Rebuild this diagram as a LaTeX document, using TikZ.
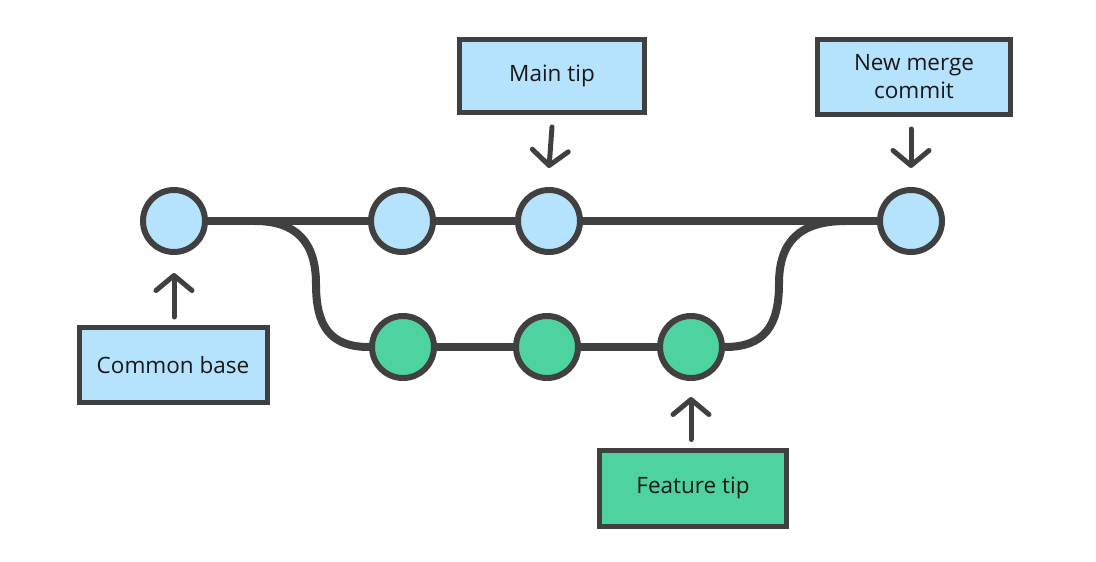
\documentclass[tikz,border=0pt]{standalone}
\usepackage{fontspec}
\setmainfont{Open Sans}
\usetikzlibrary{arrows.meta}
\definecolor{ink}{HTML}{404040}
\definecolor{lblue}{HTML}{B5E2FC}
\definecolor{lgreen}{HTML}{4DD2A0}
\tikzset{
  commit/.style={circle, draw=ink, line width=6pt, minimum size=62pt, inner sep=0pt},
  mainc/.style={commit, fill=lblue},
  featc/.style={commit, fill=lgreen},
  label box/.style={draw=ink, line width=5pt, inner sep=0pt, align=center, font=\fontsize{22.5}{28}\selectfont, text=black!90},
  bluebox/.style={label box, fill=lblue},
  greenbox/.style={label box, fill=lgreen},
  branch/.style={draw=ink, line width=8pt},
  pointer/.style={draw=ink, line width=5pt, line cap=round, -{Straight Barb[length=15pt,width=36pt,round]}}
}
\begin{document}
\begin{tikzpicture}[x=1pt,y=-1pt]
\useasboundingbox[fill=white] (0,0) rectangle (1096,562);
% commits
\node[mainc] (c1) at (174,221) {};
\node[mainc] (c2) at (402,221) {};
\node[mainc] (c3) at (549,221) {};
\node[mainc] (cm) at (911,221) {};
\node[featc] (g1) at (403,347) {};
\node[featc] (g2) at (547,347) {};
\node[featc] (g3) at (691,347) {};
% branch points
\coordinate (split) at (255,221);
\coordinate (join) at (846,221);
% lines
\draw[branch] (c1.east) -- (c2.west);
\draw[branch] (c2.east) -- (c3.west);
\draw[branch] (c3.east) -- (cm.west);
\draw[branch] (g1.east) -- (g2.west);
\draw[branch] (g2.east) -- (g3.west);
\draw[branch] (split) .. controls (296,221) and (316,242) .. (316,284) .. controls (316,326) and (330,347) .. (g1.west);
\draw[branch] (g3.east) .. controls (764,347) and (779,326) .. (779,284) .. controls (779,242) and (799,221) .. (join);
% labels
\node[bluebox, minimum width=185pt, minimum height=73pt] (lmain) at (552,76) {Main tip};
\node[bluebox, minimum width=193pt, minimum height=75pt] (lmerge) at (914,77) {New merge\\commit};
\node[bluebox, minimum width=188pt, minimum height=75pt] (lbase) at (173,365) {Common base};
\node[greenbox, minimum width=187pt, minimum height=76pt] (lfeat) at (693,488) {Feature tip};
% pointers
\draw[pointer] ([yshift=-12pt]lmain.south) -- ([yshift=19pt]c3.north);
\draw[pointer] ([yshift=-12pt]lmerge.south -| cm) -- ([yshift=19pt]cm.north);
\draw[pointer] ([yshift=8pt]lbase.north -| c1) -- ([yshift=-18pt]c1.south);
\draw[pointer] ([yshift=8pt]lfeat.north -| g3) -- ([yshift=-16pt]g3.south);
\end{tikzpicture}
\end{document}
